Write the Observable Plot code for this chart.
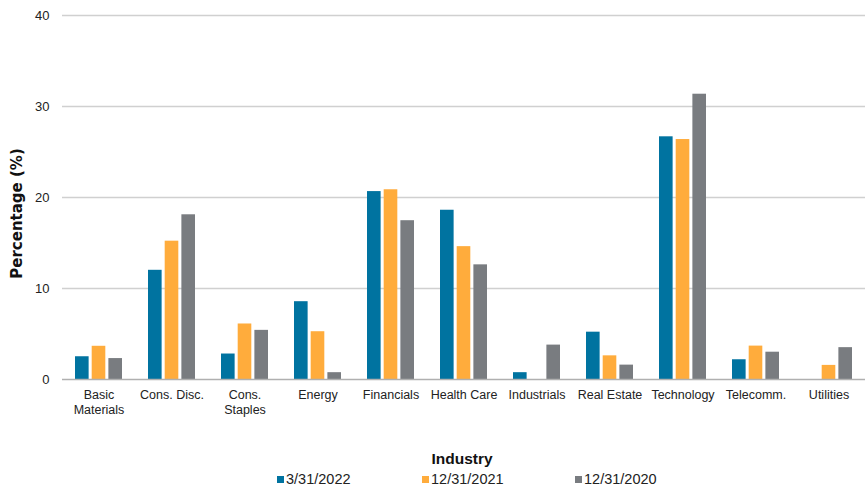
<!DOCTYPE html>
<html><head><meta charset="utf-8">
<script src="https://cdn.jsdelivr.net/npm/d3@7"></script>
<script src="https://cdn.jsdelivr.net/npm/@observablehq/plot@0.6"></script>
<style>
body{margin:0;background:#fff;font-family:"Liberation Sans",Arial,sans-serif;}
#legend{height:29px;font-size:14.5px;color:#222;position:relative;}
.item{position:absolute;top:3px;display:flex;align-items:center;}
.sw{width:7px;height:7px;margin-right:2px;}
</style></head><body>
<div id="chart"></div>
<div id="legend"></div>
<script>
const categories = ["Basic Materials","Cons. Disc.","Cons. Staples","Energy","Financials","Health Care","Industrials","Real Estate","Technology","Telecomm.","Utilities"];
const tickLabels = ["Basic\nMaterials","Cons. Disc.","Cons.\nStaples","Energy","Financials","Health Care","Industrials","Real Estate","Technology","Telecomm.","Utilities"];
const seriesNames = ["3/31/2022","12/31/2021","12/31/2020"];
const seriesColors = ["#0073a0","#ffac3c","#797c80"];
const s2022 = [2.5, 12.0, 2.8, 8.55, 20.65, 18.6, 0.75, 5.2, 26.67, 2.17, 0];
const s2021 = [3.65, 15.2, 6.1, 5.25, 20.85, 14.6, 0, 2.6, 26.37, 3.67, 1.55];
const s2020 = [2.3, 18.1, 5.4, 0.75, 17.45, 12.6, 3.78, 1.58, 31.35, 3.0, 3.5];
const yTicks = [0,10,20,30,40];

const seriesValues = [s2022, s2021, s2020];
const data = [];
seriesValues.forEach((vals, si) => categories.forEach((c, ci) => data.push({category: c, series: seriesNames[si], value: vals[ci]})));

const W = 866, groupW = 46.72, barW = 13.34, barStep = 16.69;
const tickMap = new Map(categories.map((c, i) => [c, tickLabels[i]]));

const barMarks = seriesNames.map((s, i) => Plot.barY(data.filter(d => d.series === s), {
  x: "category", y: "value", fill: seriesColors[i],
  insetLeft: i * barStep,
  insetRight: groupW - (i * barStep + barW)
}));

const chart = Plot.plot({
  width: W, height: 468,
  marginLeft: 62, marginRight: 1, marginTop: 15, marginBottom: 89,
  style: {fontFamily: '"Liberation Sans", Arial, sans-serif', fontSize: "12.5px", color: "#222"},
  x: {domain: categories, paddingInner: 0.36, paddingOuter: 0.18, align: 0.5, label: null},
  y: {domain: [0, 40], ticks: yTicks, label: null},
  marks: [
    Plot.ruleY(yTicks.filter(t => t > 0), {stroke: "#d0d0d0", strokeWidth: 1.3}),
    ...barMarks,
    Plot.ruleY([0], {stroke: "#b0b0b0", strokeWidth: 1.5}),
    Plot.axisY({ticks: yTicks, tickSize: 0, tickPadding: 13, label: null, fontSize: 13}),
    Plot.axisX({tickSize: 0, tickPadding: 8, label: null, tickFormat: d => tickMap.get(d), fontSize: 12.5, lineHeight: 1.25}),
    Plot.text(["Percentage (%)"], {frameAnchor: "left", textAnchor: "middle", dx: -45, dy: 16, rotate: -90, fontWeight: "bold", fontSize: 15, fill: "#111", fontFamily: '"DejaVu Sans", sans-serif'}),
    Plot.text(["Industry"], {frameAnchor: "bottom", dy: 84, dx: -2, fontWeight: "bold", fontSize: 15.5, fill: "#111", fontFamily: '"Liberation Sans", Arial, sans-serif'})
  ]
});
document.getElementById("chart").appendChild(chart);

const legend = document.getElementById("legend");
const lefts = [277, 422, 575];
seriesNames.forEach((s, i) => {
  const it = document.createElement("div");
  it.className = "item";
  it.style.left = lefts[i] + "px";
  const sw = document.createElement("span");
  sw.className = "sw"; sw.style.background = seriesColors[i];
  const t = document.createElement("span"); t.textContent = s;
  it.appendChild(sw); it.appendChild(t);
  legend.appendChild(it);
});
</script>
</body></html>
